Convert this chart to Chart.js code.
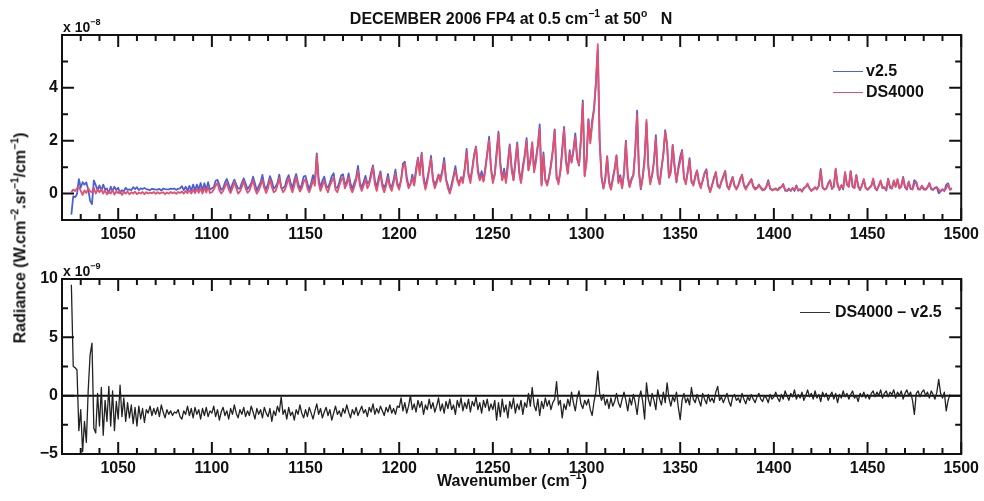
<!DOCTYPE html>
<html>
<head>
<meta charset="utf-8">
<script src="https://cdn.jsdelivr.net/npm/chart.js@4.4.1/dist/chart.umd.min.js"></script>
<style>
  html, body { margin: 0; padding: 0; background: #fff; }
  #wrap { position: relative; width: 984px; height: 501px; font-family: 'Liberation Sans', Arial, sans-serif; font-weight: bold; color: #111; }
  canvas { position: absolute; left: 0; }
  .txt { position: absolute; white-space: nowrap; }
  .txt sup { font-size: 0.65em; position: relative; top: -0.1em; }
  .leg-line { position: absolute; height: 0; border-top: 1px solid; }
</style>
</head>
<body>
<div id="wrap">
  <canvas id="topChart" width="984" height="250" style="top:0"></canvas>
  <canvas id="diffChart" width="984" height="251" style="top:250px"></canvas>

  <div class="txt" id="title" style="left:511px; top:9px; font-size:16px; transform:translateX(-50%)">DECEMBER 2006 FP4 at 0.5 cm<sup>&minus;1</sup> at 50<sup>o</sup>&nbsp;&nbsp; N</div>
  <div class="txt" style="left:63px; top:18px; font-size:14px">x 10<sup>&minus;8</sup></div>
  <div class="txt" style="left:63px; top:262px; font-size:14px">x 10<sup>&minus;9</sup></div>
  <div class="txt" style="left:20px; top:238px; font-size:16px; transform:translate(-50%,-50%) rotate(-90deg)">Radiance (W.cm<sup>&minus;2</sup>.sr<sup>&minus;1</sup>/cm<sup>&minus;1</sup>)</div>
  <div class="txt" style="left:512px; top:471px; font-size:16px; transform:translateX(-50%)">Wavenumber (cm<sup>&minus;1</sup>)</div>

  <div class="leg-line" style="left:833px; top:71px; width:30px; border-color:#4a62d8"></div>
  <div class="txt" style="left:866px; top:62px; font-size:16px">v2.5</div>
  <div class="leg-line" style="left:833px; top:92px; width:30px; border-color:#e4506e"></div>
  <div class="txt" style="left:866px; top:83px; font-size:16px">DS4000</div>
  <div class="leg-line" style="left:800px; top:312px; width:30px; border-color:#333"></div>
  <div class="txt" style="left:835px; top:303px; font-size:16px">DS4000 &ndash; v2.5</div>
</div>

<script>
// 1 cm-1 sampling grid, 1025 .. 1495
const WN_START = 1025;
const WN_COUNT = 471;
const wavenumber = Array.from({ length: WN_COUNT }, (_, i) => WN_START + i);

// DS4000 radiance, units of 1e-8
const ds4000 = [
  0.05, 0.15, 0.1, 0.2, 0.25,
  0.1, -0.05, 0.12, 0.02, 0.2, 0.08, 0.05, 0.22, 0.0, 0.15,
  0.05, 0.18, 0.0, 0.12, -0.03, 0.1, 0.0, 0.14, -0.04, 0.08,
  0.02, 0.1, -0.05, 0.06, 0.0, 0.08, -0.03, 0.05, 0.0, 0.07,
  -0.02, 0.04, 0.0, 0.06, -0.02, 0.05, 0.0, 0.04, 0.01, 0.06,
  -0.01, 0.05, 0.0, 0.03, 0.05, -0.02, 0.04, 0.0, 0.06, 0.01,
  0.05, -0.01, 0.06, 0.02, 0.08, 0.0, 0.1, 0.02, 0.12, 0.0,
  0.15, 0.02, 0.18, 0.03, 0.2, 0.0, 0.22, 0.04, 0.25, 0.02,
  0.05, 0.15, 0.3, 0.4, 0.12, 0.0, 0.1, 0.25, 0.42, 0.15,
  0.02, 0.2, 0.45, 0.2, 0.0, 0.08, 0.25, 0.48, 0.2, 0.03,
  0.1, 0.3, 0.5, 0.18, 0.0, 0.12, 0.3, 0.52, 0.2, 0.02,
  0.2, 0.55, 0.25, 0.05, 0.1, 0.3, 0.58, 0.22, 0.05, 0.15,
  0.35, 0.6, 0.25, 0.05, 0.3, 0.62, 0.25, 0.08, 0.2, 0.45,
  0.55, 0.2, 0.05, 0.25, 0.5, 0.3, 1.45, 0.4, 0.1, 0.3,
  0.5, 0.2, 0.05, 0.3, 0.45, 0.62, 0.15, 0.05, 0.3, 0.5,
  0.62, 0.2, 0.35, 0.62, 0.2, 0.05, 0.25, 0.5, 0.88, 0.3,
  0.1, 0.3, 0.55, 0.2, 0.35, 0.65, 1.0, 0.35, 0.1, 0.45,
  0.75, 0.25, 0.05, 0.3, 0.6, 0.25, 0.1, 0.4, 0.75, 0.3,
  0.15, 0.5, 1.0, 1.15, 0.5, 0.2, 0.35, 0.6, 0.3, 0.8,
  1.32, 0.7, 1.5, 0.5, 0.15, 0.45, 0.9, 1.32, 0.5, 0.2,
  0.4, 0.7, 0.45, 0.8, 1.2, 0.5, 0.2, 0.0, 0.25, 0.6,
  0.88, 0.5, 0.3, 0.6, 0.4, 0.9, 1.58, 0.7, 0.4, 0.9,
  1.4, 1.77, 0.8, 0.5, 0.7, 0.45, 0.9, 1.5, 2.02, 0.9,
  0.4, 0.7, 1.4, 2.28, 1.0, 0.5, 0.8, 0.4, 1.0, 1.81,
  0.9, 0.5, 1.1, 1.87, 0.8, 0.4, 0.9, 1.4, 2.0, 0.9,
  1.2, 1.95, 0.8, 1.2, 1.8, 2.45, 0.3, 1.45, 0.5, 0.3,
  0.6, 1.0, 1.6, 2.4, 0.7, 0.35, 0.8, 1.5, 2.45, 1.2,
  0.75, 1.55, 1.2, 1.6, 2.15, 1.3, 1.1, 2.0, 3.42, 0.65,
  1.2, 2.79, 1.9, 2.6, 3.17, 4.2, 5.65, 2.0, 0.6, 0.2,
  0.5, 1.39, 0.4, 0.15, 0.5, 0.9, 1.45, 0.4, 0.6, 0.2,
  0.8, 1.96, 0.6, 0.25, 0.5, 0.7, 1.6, 2.98, 0.8, 0.2,
  0.6, 1.2, 2.79, 1.0, 0.35, 0.7, 1.2, 2.09, 0.7, 0.35,
  0.9, 1.5, 2.34, 1.9, 0.6, 0.8, 1.83, 1.0, 0.45, 0.9,
  1.2, 1.61, 0.6, 0.35, 0.8, 1.26, 0.5, 0.3, 0.6, 0.88,
  0.4, 0.2, 0.5, 0.75, 0.85, 0.3, 0.05, 0.3, 0.55, 0.82,
  0.35, 0.2, 0.45, 0.6, 0.84, 0.3, 0.15, 0.35, 0.62, 0.3,
  0.15, 0.3, 0.5, 0.72, 0.3, 0.15, 0.3, 0.4, 0.55, 0.25,
  0.15, 0.2, 0.35, 0.2, 0.12, 0.15, 0.25, 0.45, 0.2, 0.12,
  0.15, 0.2, 0.12, 0.18, 0.25, 0.33, 0.15, 0.1, 0.15, 0.12,
  0.2, 0.15, 0.28, 0.12, 0.15, 0.1, 0.18, 0.25, 0.38, 0.2,
  0.12, 0.15, 0.25, 0.15, 0.3, 0.88, 0.25, 0.15, 0.2, 0.35,
  0.5, 0.2, 0.25, 0.94, 0.3, 0.15, 0.3, 0.2, 0.8, 0.35,
  0.25, 0.85, 0.3, 0.2, 0.7, 0.25, 0.15, 0.3, 0.55, 0.2,
  0.15, 0.2, 0.3, 0.57, 0.2, 0.15, 0.3, 0.5, 0.2, 0.25,
  0.15, 0.55, 0.25, 0.2, 0.5, 0.25, 0.55, 0.2, 0.3, 0.6,
  0.25, 0.2, 0.45, 0.2, 0.15, 0.35, 0.45, 0.2, 0.15, 0.3,
  0.2, 0.15, 0.25, 0.38, 0.2, 0.15, 0.2, 0.25, 0.15, 0.1,
  0.15, 0.12, 0.2, 0.35, 0.15, 0.2
];

// v2.5 radiance, units of 1e-8
const v25 = [
  -0.8, -0.1, -0.14, -0.02, 0.55,
  0.22, 0.43, 0.34, 0.42, 0.15, -0.27, -0.4, 0.5, 0.32, 0.13,
  0.31, 0.11, 0.34, 0.16, 0.19, 0.02, 0.26, 0.1, 0.26, 0.13,
  0.22, 0.01, 0.13, 0.08, 0.22, 0.14, 0.16, 0.13, 0.24, 0.17,
  0.24, 0.13, 0.2, 0.17, 0.21, 0.17, 0.15, 0.13, 0.18, 0.17,
  0.15, 0.15, 0.18, 0.11, 0.19, 0.17, 0.16, 0.16, 0.19, 0.18,
  0.19, 0.14, 0.18, 0.2, 0.28, 0.13, 0.26, 0.11, 0.29, 0.11,
  0.34, 0.12, 0.34, 0.15, 0.4, 0.11, 0.39, 0.14, 0.43, 0.15,
  0.2, 0.24, 0.48, 0.52, 0.33, 0.14, 0.2, 0.42, 0.55, 0.35,
  0.13, 0.36, 0.53, 0.35, 0.19, 0.2, 0.41, 0.58, 0.38, 0.16,
  0.27, 0.39, 0.64, 0.38, 0.11, 0.28, 0.42, 0.71, 0.3, 0.17,
  0.38, 0.66, 0.47, 0.18, 0.27, 0.39, 0.72, 0.23, 0.21, 0.27,
  0.55, 0.7, 0.42, 0.19, 0.51, 0.74, 0.41, 0.16, 0.35, 0.64,
  0.67, 0.38, 0.15, 0.4, 0.7, 0.43, 1.52, 0.56, 0.21, 0.49,
  0.64, 0.3, 0.22, 0.42, 0.66, 0.77, 0.24, 0.21, 0.43, 0.68,
  0.73, 0.35, 0.43, 0.76, 0.39, 0.17, 0.41, 0.6, 1.05, 0.43,
  0.19, 0.45, 0.67, 0.38, 0.45, 0.79, 1.07, 0.51, 0.21, 0.6,
  0.84, 0.38, 0.22, 0.4, 0.74, 0.33, 0.25, 0.51, 0.91, 0.39,
  0.25, 0.52, 1.13, 1.21, 0.65, 0.29, 0.35, 0.72, 0.37, 0.94,
  1.36, 0.8, 1.55, 0.66, 0.23, 0.57, 0.93, 1.43, 0.56, 0.34,
  0.49, 0.72, 0.58, 0.87, 1.35, 0.55, 0.31, 0.03, 0.37, 0.68,
  1.04, 0.54, 0.4, 0.62, 0.53, 0.96, 1.69, 0.73, 0.54, 0.95,
  1.49, 1.78, 0.92, 0.56, 0.85, 0.49, 1.0, 1.53, 2.15, 0.97,
  0.52, 0.74, 1.61, 2.34, 1.18, 0.53, 0.94, 0.48, 1.19, 1.86,
  1.01, 0.52, 1.25, 1.94, 0.92, 0.44, 1.06, 1.46, 2.1, 0.88,
  1.29, 1.88, 0.88, 1.33, 1.83, 2.62, 0.35, 1.56, 0.52, 0.39,
  0.64, 1.12, 1.66, 2.43, 0.58, 0.43, 0.84, 1.69, 2.52, 1.32,
  0.78, 1.64, 1.17, 1.66, 2.28, 1.32, 1.06, 2.07, 3.53, 0.69,
  1.28, 2.82, 2.02, 2.77, 3.22, 4.17, 5.44, 1.98, 0.64, 0.19,
  0.58, 1.42, 0.51, 0.17, 0.59, 0.95, 1.43, 0.46, 0.7, 0.23,
  0.77, 2.0, 0.73, 0.27, 0.58, 0.69, 1.66, 3.14, 0.82, 0.16,
  0.65, 1.4, 2.68, 1.03, 0.44, 0.68, 1.24, 2.21, 0.65, 0.38,
  0.98, 1.47, 2.4, 1.79, 0.62, 0.89, 1.84, 1.05, 0.42, 1.0,
  1.4, 1.65, 0.58, 0.41, 0.82, 1.34, 0.43, 0.33, 0.66, 0.87,
  0.44, 0.29, 0.48, 0.78, 0.92, 0.29, 0.1, 0.32, 0.61, 0.79,
  0.27, 0.24, 0.46, 0.66, 0.86, 0.28, 0.2, 0.44, 0.63, 0.29,
  0.19, 0.32, 0.56, 0.7, 0.33, 0.22, 0.31, 0.44, 0.54, 0.28,
  0.21, 0.21, 0.33, 0.23, 0.17, 0.15, 0.27, 0.51, 0.19, 0.15,
  0.16, 0.17, 0.14, 0.23, 0.24, 0.36, 0.11, 0.1, 0.19, 0.1,
  0.21, 0.1, 0.31, 0.11, 0.17, 0.07, 0.22, 0.25, 0.33, 0.21,
  0.1, 0.18, 0.21, 0.17, 0.29, 0.93, 0.22, 0.16, 0.18, 0.39,
  0.5, 0.17, 0.28, 0.92, 0.36, 0.14, 0.32, 0.16, 0.81, 0.33,
  0.28, 0.84, 0.26, 0.22, 0.7, 0.3, 0.13, 0.31, 0.52, 0.22,
  0.14, 0.23, 0.28, 0.53, 0.21, 0.12, 0.3, 0.45, 0.22, 0.23,
  0.11, 0.56, 0.22, 0.19, 0.45, 0.27, 0.52, 0.2, 0.26, 0.63,
  0.23, 0.15, 0.45, 0.17, 0.19, 0.51, 0.43, 0.16, 0.16, 0.27,
  0.15, 0.15, 0.22, 0.4, 0.16, 0.14, 0.23, 0.22, 0.01, 0.08,
  0.17, 0.09, 0.33, 0.39, 0.14, 0.2
];

// DS4000 - v2.5, units of 1e-9
const diff = [
  9.5, 2.5, 2.4, 2.2, -3.0,
  -1.2, -4.8, -2.2, -4.0, 0.5, 3.5, 4.5, -2.8, -3.2, 0.2,
  -2.6, 0.7, -3.4, -0.4, -2.2, 0.8, -2.6, 0.4, -3.0, -0.5,
  -2.0, 0.9, -1.8, -0.2, -2.2, -0.6, -1.9, -0.8, -2.4, -1.0,
  -2.6, -0.9, -2.0, -1.1, -2.3, -1.2, -1.5, -0.9, -1.7, -1.1,
  -1.6, -1.0, -1.8, -0.8, -1.4, -1.9, -1.2, -1.6, -1.3, -1.7,
  -1.4, -1.5, -1.2, -1.8, -2.0, -1.3, -1.6, -0.9, -1.7, -1.1,
  -1.9, -1.0, -1.6, -1.2, -2.0, -1.1, -1.7, -1.0, -1.8, -1.3,
  -1.5, -0.9, -1.8, -1.2, -2.1, -1.4, -1.0, -1.7, -1.3, -2.0,
  -1.1, -1.6, -0.8, -1.5, -1.9, -1.2, -1.6, -1.0, -1.8, -1.3,
  -1.7, -0.9, -1.4, -2.0, -1.1, -1.6, -1.2, -1.9, -1.0, -1.5,
  -1.8, -1.1, -2.2, -1.3, -1.7, -0.9, -1.4, -0.1, -1.6, -1.2,
  -2.0, -1.0, -1.7, -1.4, -2.1, -1.2, -1.6, -0.8, -1.5, -1.9,
  -1.2, -1.8, -1.0, -1.5, -2.0, -1.3, -0.7, -1.6, -1.1, -1.9,
  -1.4, -1.0, -1.7, -1.2, -2.1, -1.5, -0.9, -1.6, -1.3, -1.8,
  -1.1, -1.5, -0.8, -1.4, -1.9, -1.2, -1.6, -1.0, -1.7, -1.3,
  -0.9, -1.5, -1.2, -1.8, -1.0, -1.4, -0.7, -1.6, -1.1, -1.5,
  -0.9, -1.3, -1.7, -1.0, -1.4, -0.8, -1.5, -1.1, -1.6, -0.9,
  -1.0, -0.2, -1.3, -0.6, -1.5, -0.9, 0.0, -1.2, -0.7, -1.4,
  -0.4, -1.0, -0.5, -1.6, -0.8, -1.2, -0.3, -1.1, -0.6, -1.4,
  -0.9, -0.2, -1.3, -0.7, -1.5, -0.5, -1.1, -0.3, -1.2, -0.8,
  -1.6, -0.4, -1.0, -0.2, -1.3, -0.6, -1.1, -0.3, -1.4, -0.5,
  -0.9, -0.1, -1.2, -0.6, -1.5, -0.4, -1.0, -0.3, -1.3, -0.7,
  -1.2, -0.4, -2.1, -0.6, -1.8, -0.3, -1.4, -0.8, -1.9, -0.5,
  -1.1, -0.2, -1.5, -0.7, -1.2, -0.4, -1.6, -0.6, -1.0, 0.2,
  -0.9, 0.7, -0.8, -1.3, -0.3, -1.7, -0.5, -1.1, -0.2, -0.9,
  -0.4, -1.2, -0.6, -0.3, 1.2, -0.8, -0.4, -1.9, -0.7, -1.2,
  -0.3, -0.9, 0.3, -0.6, -1.3, -0.2, 0.4, -0.7, -1.1, -0.4,
  -0.8, -0.3, -1.2, -1.7, -0.5, 0.3, 2.1, 0.2, -0.4, 0.1,
  -0.8, -0.3, -1.1, -0.2, -0.9, -0.5, 0.2, -0.6, -1.0, -0.3,
  0.3, -0.4, -1.3, -0.2, -0.8, 0.1, -0.6, -1.6, -0.2, 0.4,
  -0.5, -2.0, 1.1, -0.3, -0.9, 0.2, -0.4, -1.2, 0.5, -0.3,
  -0.8, 0.3, -0.6, 1.1, -0.2, -0.9, -0.1, -0.5, 0.3, -1.0,
  -2.05, -0.4, 0.2, -0.6, -0.2, -0.8, 0.7, -0.3, -0.6, 0.1,
  -0.4, -0.9, 0.2, -0.3, -0.7, 0.1, -0.5, -0.2, -0.6, 0.3,
  0.8, -0.4, -0.1, -0.6, -0.2, 0.2, -0.5, -0.9, -0.1, 0.1,
  -0.4, -0.2, -0.6, 0.2, -0.3, -0.7, -0.1, -0.4, 0.1, -0.3,
  -0.6, -0.1, 0.2, -0.3, -0.5, 0.0, -0.2, -0.6, 0.1, -0.3,
  -0.1, 0.3, -0.2, -0.5, 0.1, -0.3, 0.4, 0.0, -0.4, 0.2,
  -0.1, 0.5, -0.3, 0.1, -0.2, 0.3, -0.4, 0.0, 0.5, -0.1,
  0.2, -0.3, 0.4, -0.2, 0.1, -0.5, 0.3, -0.1, 0.2, -0.4,
  0.0, 0.3, -0.3, 0.2, -0.6, 0.1, -0.2, 0.4, -0.1, 0.2,
  -0.3, 0.1, 0.4, -0.2, 0.0, -0.5, 0.2, -0.1, 0.3, -0.2,
  0.1, -0.3, 0.2, 0.4, -0.1, 0.3, 0.0, 0.5, -0.2, 0.2,
  0.4, -0.1, 0.3, 0.1, 0.5, -0.2, 0.3, 0.0, 0.4, -0.3,
  0.2, 0.5, 0.0, 0.3, -0.4, -1.6, 0.2, 0.4, -0.1, 0.3,
  0.5, 0.0, 0.3, -0.2, 0.4, 0.1, -0.3, 0.3, 1.4, 0.2,
  -0.2, 0.3, -1.3, -0.4, 0.1, null
];

const xTicksMajor = 50;
const topYMin = -1, topYMax = 6, topYLabels = [0, 2, 4];
const diffYMin = -5, diffYMax = 10, diffYLabels = [-5, 0, 5, 10];

const BLUE = '#4a62d8';
const RED = '#e4506e';
const INK = '#111';
const FONT = { family: "'Liberation Sans', Arial, sans-serif", size: 16, weight: 'bold' };

const toPoints = arr => arr.map((v, i) => ({ x: wavenumber[i], y: v }));

// frame, inward ticks on all four sides, optional zero line
const framePlugin = {
    id: 'frame',
    beforeDatasetsDraw(chart, args, opts) {
        if (!opts.zeroLine) return;
        const { ctx, chartArea: a, scales: { y } } = chart;
        const py = y.getPixelForValue(0);
        ctx.save();
        ctx.strokeStyle = INK;
        ctx.lineWidth = 2;
        ctx.beginPath();
        ctx.moveTo(a.left, py);
        ctx.lineTo(a.right, py);
        ctx.stroke();
        ctx.restore();
    },
    afterDraw(chart, args, opts) {
        const { ctx, chartArea: a, scales: { x, y } } = chart;
        const seg = (x1, y1, x2, y2) => { ctx.moveTo(x1, y1); ctx.lineTo(x2, y2); };
        ctx.save();
        ctx.strokeStyle = INK;
        ctx.lineWidth = 2;
        ctx.beginPath();
        x.ticks.forEach(t => {
            const px = x.getPixelForValue(t.value);
            const len = t.value % xTicksMajor === 0 ? 12 : 6;
            seg(px, a.bottom, px, a.bottom - len);
            seg(px, a.top, px, a.top + len);
        });
        y.ticks.forEach(t => {
            const py = y.getPixelForValue(t.value);
            const len = opts.yMajor.includes(t.value) ? 12 : 6;
            seg(a.left, py, a.left + len, py);
            seg(a.right, py, a.right - len, py);
        });
        ctx.stroke();
        ctx.strokeRect(a.left, a.top, a.width, a.height);
        ctx.restore();
    }
};

function makeOptions(cfg) {
    return {
        responsive: false,
        animation: false,
        layout: { padding: { top: cfg.padTop, right: 18, left: 0, bottom: 0 } },
        plugins: {
            legend: { display: false },
            tooltip: { enabled: false },
            frame: { zeroLine: cfg.zeroLine, yMajor: cfg.yMajor },
        },
        elements: { point: { radius: 0 }, line: { tension: 0, borderJoinStyle: 'round' } },
        scales: {
            x: {
                type: 'linear', min: 1020, max: 1500,
                grid: { display: false, drawTicks: false },
                border: { display: false },
                ticks: {
                    stepSize: 10, autoSkip: false, maxRotation: 0, padding: 5,
                    color: INK, font: FONT,
                    callback: v => (v % xTicksMajor === 0 ? String(v) : ''),
                },
                afterFit: s => { s.height = cfg.xHeight; },
            },
            y: {
                min: cfg.yMin, max: cfg.yMax,
                grid: { display: false, drawTicks: false },
                border: { display: false },
                ticks: {
                    stepSize: cfg.yStep, padding: 4, color: INK, font: FONT,
                    callback: v => (cfg.yLabels.includes(v) ? String(v).replace('-', '\u2212') : ''),
                },
                afterFit: s => { s.width = 62; },
            },
        },
    };
}

new Chart(document.getElementById('topChart'), {
    type: 'line',
    data: {
        datasets: [
            { label: 'v2.5', data: toPoints(v25), borderColor: BLUE, borderWidth: 1.8, order: 1 },
            { label: 'DS4000', data: toPoints(ds4000), borderColor: RED, borderWidth: 1.8, order: 0 },
        ],
    },
    options: makeOptions({
        padTop: 35, xHeight: 30, yMin: topYMin, yMax: topYMax, yStep: 1,
        yLabels: topYLabels, yMajor: [0, 2, 4, 6], zeroLine: false,
    }),
    plugins: [framePlugin],
});

new Chart(document.getElementById('diffChart'), {
    type: 'line',
    data: {
        datasets: [
            { label: 'DS4000 - v2.5', data: toPoints(diff), borderColor: '#222', borderWidth: 1.3 },
        ],
    },
    options: makeOptions({
        padTop: 29, xHeight: 47, yMin: diffYMin, yMax: diffYMax, yStep: 2.5,
        yLabels: diffYLabels, yMajor: [-5, 0, 5, 10], zeroLine: true,
    }),
    plugins: [framePlugin],
});
</script>
</body>
</html>
